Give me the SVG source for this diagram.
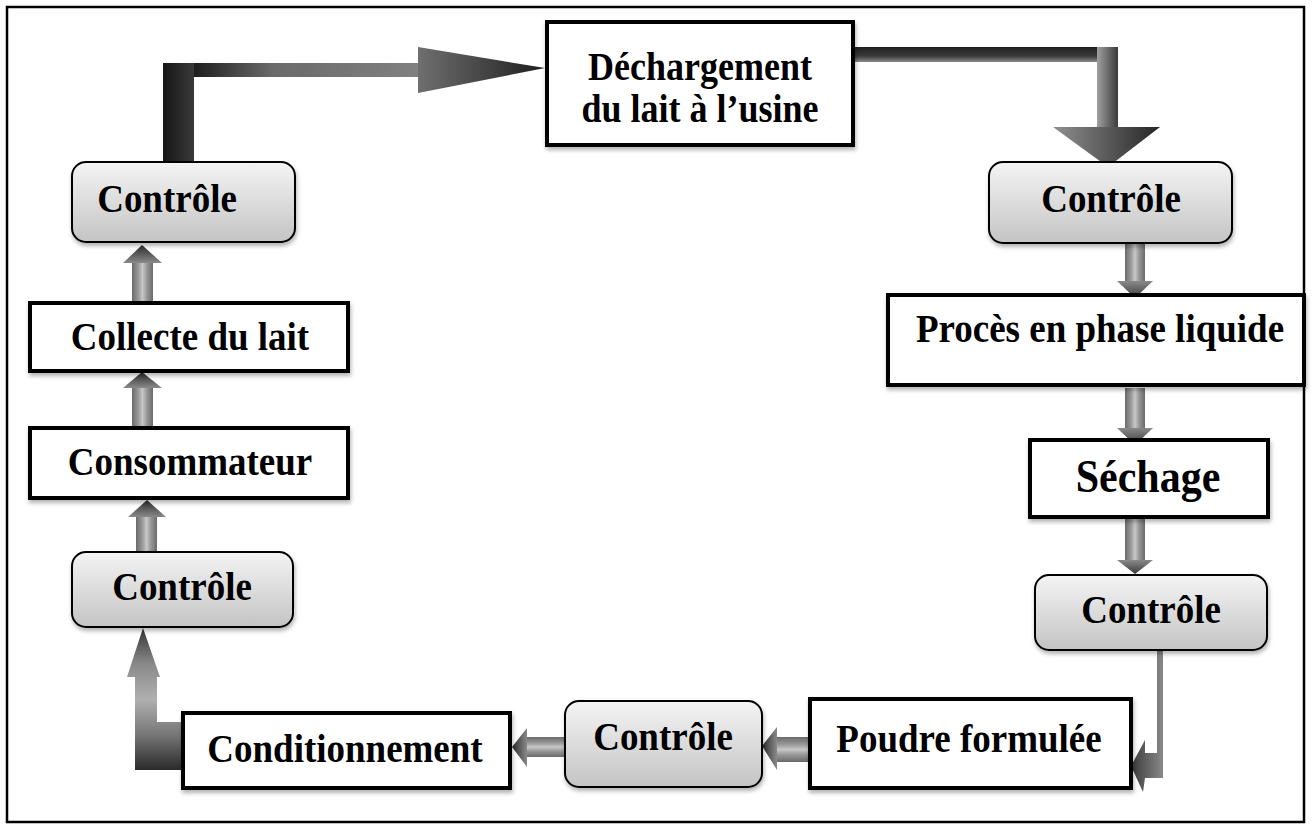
<svg xmlns="http://www.w3.org/2000/svg" width="1312" height="829" viewBox="0 0 1312 829">
<style>
.lbl{font-family:"Liberation Serif","Times New Roman",serif;font-weight:bold;font-size:37px;fill:#000;text-anchor:middle}
.big{font-size:42px}
.box{fill:#fff;stroke:#000;stroke-width:4;filter:url(#sh)}
.ctl{fill:url(#gCtl);stroke:#000;stroke-width:2;filter:url(#sh)}
.sv{fill:url(#gSV)}
.sh{fill:url(#gSH)}
.hd{fill:url(#gHD)}
.hu{fill:url(#gHU)}
.hl{fill:url(#gHL)}
</style>
<defs>
<filter id="sh" x="-10%" y="-10%" width="125%" height="130%">
<feDropShadow dx="1" dy="3" stdDeviation="2" flood-color="#000" flood-opacity="0.3"/>
</filter>
<linearGradient id="gCtl" x1="0" y1="0" x2="0" y2="1">
<stop offset="0" stop-color="#f4f4f4"/>
<stop offset="1" stop-color="#c4c4c4"/>
</linearGradient>
<linearGradient id="gSV" x1="0" y1="0" x2="1" y2="0">
<stop offset="0" stop-color="#6a6a6a"/>
<stop offset="0.3" stop-color="#999"/>
<stop offset="0.5" stop-color="#c8c8c8"/>
<stop offset="0.7" stop-color="#999"/>
<stop offset="1" stop-color="#6a6a6a"/>
</linearGradient>
<linearGradient id="gSH" x1="0" y1="0" x2="0" y2="1">
<stop offset="0" stop-color="#6a6a6a"/>
<stop offset="0.3" stop-color="#999"/>
<stop offset="0.5" stop-color="#c8c8c8"/>
<stop offset="0.7" stop-color="#999"/>
<stop offset="1" stop-color="#6a6a6a"/>
</linearGradient>
<linearGradient id="gHD" x1="0" y1="0" x2="0" y2="1">
<stop offset="0" stop-color="#8a8a8a"/>
<stop offset="1" stop-color="#3a3a3a"/>
</linearGradient>
<linearGradient id="gHU" x1="0" y1="1" x2="0" y2="0">
<stop offset="0" stop-color="#8a8a8a"/>
<stop offset="1" stop-color="#2a2a2a"/>
</linearGradient>
<linearGradient id="gHL" x1="1" y1="0" x2="0" y2="0">
<stop offset="0" stop-color="#8a8a8a"/>
<stop offset="1" stop-color="#2a2a2a"/>
</linearGradient>
<linearGradient id="gTopH" x1="0" y1="0" x2="1" y2="0">
<stop offset="0" stop-color="#1e1e1e"/>
<stop offset="0.35" stop-color="#6a6a6a"/>
<stop offset="1" stop-color="#808080"/>
</linearGradient>
<linearGradient id="gTopV" x1="0" y1="0" x2="1" y2="0">
<stop offset="0" stop-color="#151515"/>
<stop offset="1" stop-color="#3a3a3a"/>
</linearGradient>
<linearGradient id="gTopHead" x1="0" y1="0" x2="1" y2="0">
<stop offset="0" stop-color="#6f6f6f"/>
<stop offset="1" stop-color="#1e1e1e"/>
</linearGradient>
<linearGradient id="gTRH" x1="0" y1="0" x2="0" y2="1">
<stop offset="0" stop-color="#1e1e1e"/>
<stop offset="0.6" stop-color="#3a3a3a"/>
<stop offset="1" stop-color="#8a8a8a"/>
</linearGradient>
<linearGradient id="gTRV" x1="0" y1="0" x2="1" y2="0">
<stop offset="0" stop-color="#a0a0a0"/>
<stop offset="1" stop-color="#3a3a3a"/>
</linearGradient>
<linearGradient id="gTRHead" x1="0" y1="0" x2="1" y2="0">
<stop offset="0" stop-color="#909090"/>
<stop offset="1" stop-color="#252525"/>
</linearGradient>
<linearGradient id="gBL" x1="0" y1="0" x2="0" y2="1">
<stop offset="0" stop-color="#333"/>
<stop offset="0.25" stop-color="#888"/>
<stop offset="0.5" stop-color="#b0b0b0"/>
<stop offset="0.75" stop-color="#777"/>
<stop offset="1" stop-color="#2a2a2a"/>
</linearGradient>
<linearGradient id="gBR" x1="0" y1="0" x2="1" y2="0">
<stop offset="0" stop-color="#3a3a3a"/>
<stop offset="1" stop-color="#8a8a8a"/>
</linearGradient>
</defs>

<rect x="7" y="7" width="1297" height="815" fill="#fff" stroke="#000" stroke-width="2.5"/>

<g id="connectors">
  <rect x="194" y="63" width="224" height="14" fill="url(#gTopH)"/>
  <rect x="163" y="63" width="31" height="99" fill="url(#gTopV)"/>
  <polygon points="418,47 545,68 418,93" fill="url(#gTopHead)"/>
  <rect x="853" y="47" width="265" height="15" fill="url(#gTRH)"/>
  <rect x="1097" y="47" width="21" height="80" fill="url(#gTRV)"/>
  <polygon points="1053,127 1160,127 1108,167" fill="url(#gTRHead)"/>
  <rect class="sv" x="1125" y="244" width="20" height="38"/>
  <polygon class="hd" points="1117,281 1153,281 1135,298"/>
  <rect class="sv" x="1125" y="388" width="20" height="41"/>
  <polygon class="hd" points="1117,428 1153,428 1135,445"/>
  <rect class="sv" x="1125" y="519" width="20" height="42"/>
  <polygon class="hd" points="1117,560 1153,560 1135,574"/>
  <polygon points="1157,650 1163,650 1163,778 1145,778 1143,792 1131,766 1145,740 1145,753 1157,753" fill="url(#gBR)"/>
  <rect class="sh" x="776" y="737" width="34" height="25"/>
  <polygon class="hl" points="777,727 777,770 762,746"/>
  <rect class="sh" x="526" y="737" width="39" height="20"/>
  <polygon class="hl" points="527,728 527,767 512,747"/>
  <polygon points="183,770 135,770 135,677 127,677 143,628 160,677 157,677 157,722 183,722" fill="url(#gBL)"/>
  <rect class="sv" x="132" y="262" width="21" height="41"/>
  <polygon class="hu" points="123,263 162,263 142,245"/>
  <rect class="sv" x="132" y="387" width="21" height="41"/>
  <polygon class="hu" points="123,388 162,388 142,372"/>
  <rect class="sv" x="136" y="516" width="21" height="36"/>
  <polygon class="hu" points="128,517 166,517 147,500"/>
</g>

<g id="n-dechargement">
  <rect class="box" x="547" y="22" width="306" height="123"/>
  <text class="lbl" transform="translate(700,80) scale(1,1.1)" style="font-size:36px">Déchargement</text>
  <text class="lbl" transform="translate(700,122) scale(1,1.1)" style="font-size:36px">du lait à l’usine</text>
</g>
<g id="n-controle-tl">
  <rect class="ctl" x="72" y="162" width="223" height="80" rx="14"/>
  <text class="lbl" transform="translate(167,212) scale(1,1.1)">Contrôle</text>
</g>
<g id="n-collecte">
  <rect class="box" x="30" y="303" width="318" height="68"/>
  <text class="lbl" transform="translate(190,350) scale(1,1.1)">Collecte du lait</text>
</g>
<g id="n-consommateur">
  <rect class="box" x="30" y="428" width="318" height="70"/>
  <text class="lbl" transform="translate(190,475) scale(1,1.1)">Consommateur</text>
</g>
<g id="n-controle-bl">
  <rect class="ctl" x="72" y="552" width="221" height="75" rx="14"/>
  <text class="lbl" transform="translate(182,600) scale(1,1.1)">Contrôle</text>
</g>
<g id="n-conditionnement">
  <rect class="box" x="183" y="713" width="327" height="75"/>
  <text class="lbl" transform="translate(345,762) scale(1,1.1)">Conditionnement</text>
</g>
<g id="n-controle-bm">
  <rect class="ctl" x="565" y="701" width="197" height="86" rx="14"/>
  <text class="lbl" transform="translate(663,750) scale(1,1.1)">Contrôle</text>
</g>
<g id="n-poudre">
  <rect class="box" x="810" y="699" width="321" height="89"/>
  <text class="lbl" transform="translate(969,752) scale(1,1.1)">Poudre formulée</text>
</g>
<g id="n-controle-br">
  <rect class="ctl" x="1035" y="575" width="232" height="75" rx="14"/>
  <text class="lbl" transform="translate(1151,623) scale(1,1.1)">Contrôle</text>
</g>
<g id="n-sechage">
  <rect class="box" x="1030" y="440" width="238" height="77"/>
  <text class="lbl big" transform="translate(1148,492) scale(1,1.1)">Séchage</text>
</g>
<g id="n-proces">
  <rect class="box" x="888" y="295" width="416" height="90"/>
  <text class="lbl" transform="translate(1100,342) scale(1,1.1)">Procès en phase liquide</text>
</g>
<g id="n-controle-tr">
  <rect class="ctl" x="989" y="162" width="243" height="81" rx="14"/>
  <text class="lbl" transform="translate(1111,212) scale(1,1.1)">Contrôle</text>
</g>
</svg>
